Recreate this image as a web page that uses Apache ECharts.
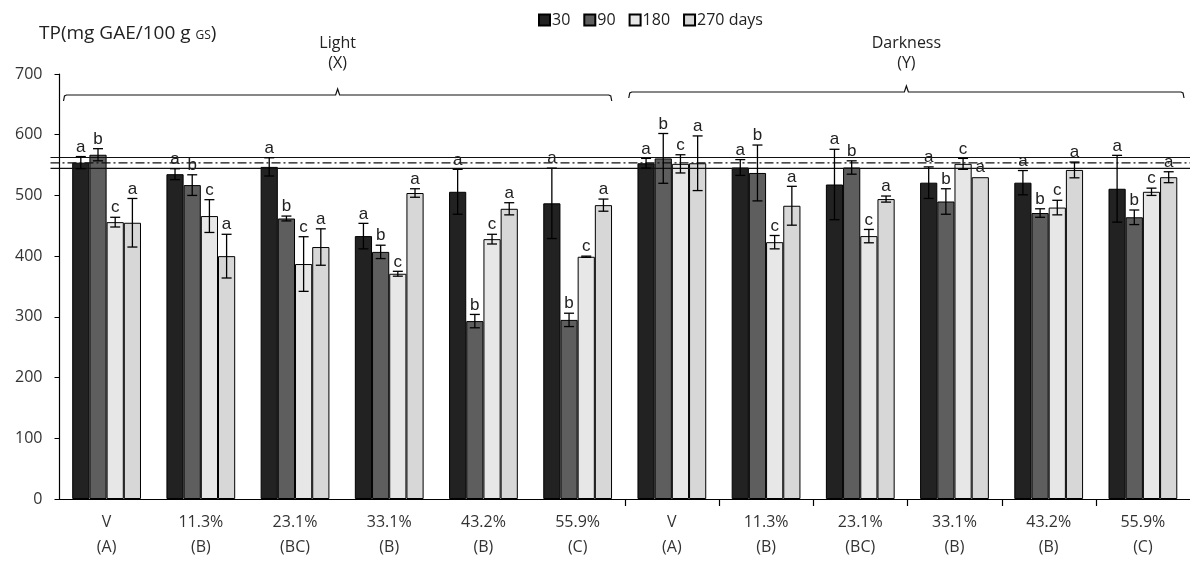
<!DOCTYPE html>
<html>
<head>
<meta charset="utf-8">
<script src="https://cdn.jsdelivr.net/npm/echarts@6/dist/echarts.min.js"></script>
<style>
  html, body { margin: 0; padding: 0; background: #fff; }
  #chart { width: 1190px; height: 565px; }
</style>
</head>
<body>
<div id="chart"></div>
<script>
// Storage humidity groups (x axis), light block first, darkness block second
const categories = [
  'V\n(A)', '11.3%\n(B)', '23.1%\n(BC)', '33.1%\n(B)', '43.2%\n(B)', '55.9%\n(C)',
  'V\n(A)', '11.3%\n(B)', '23.1%\n(BC)', '33.1%\n(B)', '43.2%\n(B)', '55.9%\n(C)'
];
const seriesNames = ['30', '90', '180', '270 days'];

// Total phenolics (mg GAE/100 g) and their standard deviations per storage time
const tp30  = [554, 535, 547, 433, 506, 487,  553, 546, 518, 521, 521, 511];
const sd30  = [10, 9, 15, 21, 37, 58,  8, 13, 58, 26, 20, 55];
const tp90  = [567, 517, 462, 407, 293, 295,  561, 537, 546, 490, 471, 464];
const sd90  = [10, 17, 4, 11, 11, 11,  41, 46, 11, 21, 7, 12];
const tp180 = [456, 466, 387, 371, 428, 399,  552, 423, 433, 552, 480, 506];
const sd180 = [8, 27, 45, 4, 8, 1,  15, 11, 11, 9, 12, 6];
const tp270 = [455, 400, 415, 504, 478, 484,  553, 483, 494, 530, 542, 530];
const sd270 = [40, 36, 30, 7, 10, 10,  45, 32, 5, 0, 13, 9];

// Significance letters above each bar
const letters30  = ['a','a','a','a','a','a', 'a','a','a','a','a','a'];
const letters90  = ['b','b','b','b','b','b', 'b','b','b','b','b','b'];
const letters180 = ['c','c','c','c','c','c', 'c','c','c','c','c','c'];
const letters270 = ['a','a','a','a','a','a', 'a','a','a','a','a','a'];

// Initial value: upper limit, mean (dash-dot) and lower limit
const refUpper = 562.5;
const refMean = 553.6;
const refLower = 544.4;

// Y axis scale
const yMin = 0, yMax = 700, yStep = 100;

// Storage condition blocks: label lines, first and last category index
const blockNames = [['Light', '(X)'], ['Darkness', '(Y)']];
const blockRanges = [[0, 5], [6, 11]];
// Category boundaries that carry a tick mark on the x axis
const tickedBoundaries = [6, 7, 8, 9, 10, 11];

const values = [tp30, tp90, tp180, tp270];
const sds = [sd30, sd90, sd180, sd270];
const letters = [letters30, letters90, letters180, letters270];
const fills = ['#222222', '#5e5e5e', '#e7e7e7', '#d7d7d7'];
const CAT_GAP = 0.27;
const FONT = "'Open Sans', sans-serif";

const errItems = [];
values.forEach((arr, s) => arr.forEach((v, i) => {
  errItems.push({ s: s, cat: i, value: v, sd: sds[s][i], letter: letters[s][i] });
}));

function barCenter(api, cat, s) {
  const band = api.size([1, 0])[0];
  const used = band * (1 - CAT_GAP);
  const bw = used / 4;
  const c = api.coord([cat, 0]);
  return c[0] - used / 2 + (s + 0.5) * bw;
}

function renderErr(params, api) {
  const it = errItems[params.dataIndex];
  const x = barCenter(api, it.cat, it.s);
  const top = api.coord([it.cat, it.value + it.sd])[1];
  const bot = api.coord([it.cat, it.value - it.sd])[1];
  const cap = 5;
  const st = { stroke: '#000', lineWidth: 1.3 };
  const children = [];
  if (it.sd > 0) {
    children.push({ type: 'line', shape: { x1: x, y1: top, x2: x, y2: bot }, style: st });
    children.push({ type: 'line', shape: { x1: x - cap, y1: top, x2: x + cap, y2: top }, style: st });
    children.push({ type: 'line', shape: { x1: x - cap, y1: bot, x2: x + cap, y2: bot }, style: st });
  }
  children.push({
    type: 'text',
    style: {
      text: it.letter, x: x, y: top - 1,
      textAlign: 'center', textVerticalAlign: 'bottom',
      fill: '#222', font: "17px 'Liberation Sans', Arial, sans-serif"
    }
  });
  return { type: 'group', children: children };
}

const refItems = [
  { v: refUpper, dash: null },
  { v: refMean, dash: [9, 3, 2, 3] },
  { v: refLower, dash: null }
];
function renderRef(params, api) {
  const it = refItems[params.dataIndex];
  const cs = params.coordSys;
  const y = api.coord([0, it.v])[1];
  return {
    type: 'line',
    shape: { x1: cs.x - 9, y1: y, x2: cs.x + cs.width, y2: y },
    style: { stroke: '#111', lineWidth: 1.2, lineDash: it.dash }
  };
}

function renderTick(params, api) {
  const band = api.size([1, 0])[0];
  const cs = params.coordSys;
  const x = Math.round(api.coord([tickedBoundaries[params.dataIndex], 0])[0] - band / 2) + 0.5;
  const y = cs.y + cs.height;
  return { type: 'line', shape: { x1: x, y1: y, x2: x, y2: y + 7 }, style: { stroke: '#000', lineWidth: 1.2 } };
}

function renderBlock(params, api) {
  const i = params.dataIndex;
  const band = api.size([1, 0])[0];
  const cs = params.coordSys;
  const x1 = api.coord([blockRanges[i][0], 0])[0] - band / 2 + 4;
  const x2 = api.coord([blockRanges[i][1], 0])[0] + band / 2 - (i === 0 ? 13 : 6);
  const y = cs.y + (i === 0 ? 21 : 18);
  const cx = (x1 + x2) / 2;
  const st = { stroke: '#111', lineWidth: 1.2, fill: null };
  return {
    type: 'group',
    children: [
      {
        type: 'polyline',
        shape: { points: [[x1, y + 6], [x1 + 1, y + 1], [x1 + 3, y], [cx - 2, y], [cx, y - 6], [cx + 2, y], [x2 - 3, y], [x2 - 1, y + 1], [x2, y + 6]] },
        style: st
      },
      {
        type: 'text',
        style: {
          text: blockNames[i].join('\n'), x: cx, y: cs.y - 21,
          textAlign: 'center', textVerticalAlign: 'middle',
          lineHeight: 20, fill: '#222', font: "16px " + FONT
        }
      }
    ]
  };
}

const chart = echarts.init(document.getElementById('chart'), null, { renderer: 'canvas' });

const barSeries = seriesNames.map((name, s) => ({
  name: name,
  type: 'bar',
  data: values[s],
  barGap: '0%',
  barCategoryGap: (CAT_GAP * 100) + '%',
  itemStyle: { color: fills[s], borderColor: '#000', borderWidth: 1 },
  emphasis: { disabled: true },
  z: 2
}));

chart.setOption({
  animation: false,
  title: {
    text: '{a|TP(mg GAE/100 g }{b|GS}{a|)}',
    left: 34, top: 19,
    textStyle: {
      fontWeight: 'normal',
      rich: {
        a: { fontFamily: FONT, fontSize: 19, fontWeight: 'normal', color: '#222' },
        b: { fontFamily: FONT, fontSize: 12, fontWeight: 'normal', color: '#222', padding: [4, 0, 0, 0] }
      }
    }
  },
  legend: {
    data: seriesNames,
    top: 7, left: 533,
    icon: 'rect', itemWidth: 11, itemHeight: 11, itemGap: 13,
    textStyle: { fontFamily: FONT, fontSize: 16, color: '#222', padding: [0, 0, 0, -3] }
  },
  grid: { left: 59.5, top: 74, width: 1132, bottom: 66, containLabel: false },
  xAxis: {
    type: 'category',
    data: categories,
    axisLine: { lineStyle: { color: '#000', width: 1.2 } },
    axisTick: { show: false },
    axisLabel: { interval: 0, margin: 11, lineHeight: 25, fontFamily: FONT, fontSize: 16, color: '#333' }
  },
  yAxis: {
    type: 'value',
    min: yMin, max: yMax, interval: yStep,
    axisLine: { show: true, lineStyle: { color: '#000', width: 1.2 } },
    axisTick: { show: true, length: 5, lineStyle: { color: '#000' } },
    splitLine: { show: false },
    axisLabel: { margin: 17, fontFamily: FONT, fontSize: 16, color: '#333' }
  },
  series: barSeries.concat([
    {
      type: 'custom',
      renderItem: renderRef,
      data: refItems.map(r => [0, r.v]),
      encode: { x: 0, y: 1 },
      z: 4, silent: true
    },
    {
      type: 'custom',
      renderItem: renderErr,
      data: errItems.map(it => [it.cat, it.value]),
      encode: { x: 0, y: 1 },
      z: 5, silent: true
    },
    {
      type: 'custom',
      renderItem: renderTick,
      data: tickedBoundaries.map(b => [b, 0]),
      encode: { x: 0, y: 1 },
      z: 5, silent: true
    },
    {
      type: 'custom',
      renderItem: renderBlock,
      data: blockRanges.map(r => [r[0], 0]),
      encode: { x: 0, y: 1 },
      z: 5, silent: true
    }
  ])
});
</script>
</body>
</html>
